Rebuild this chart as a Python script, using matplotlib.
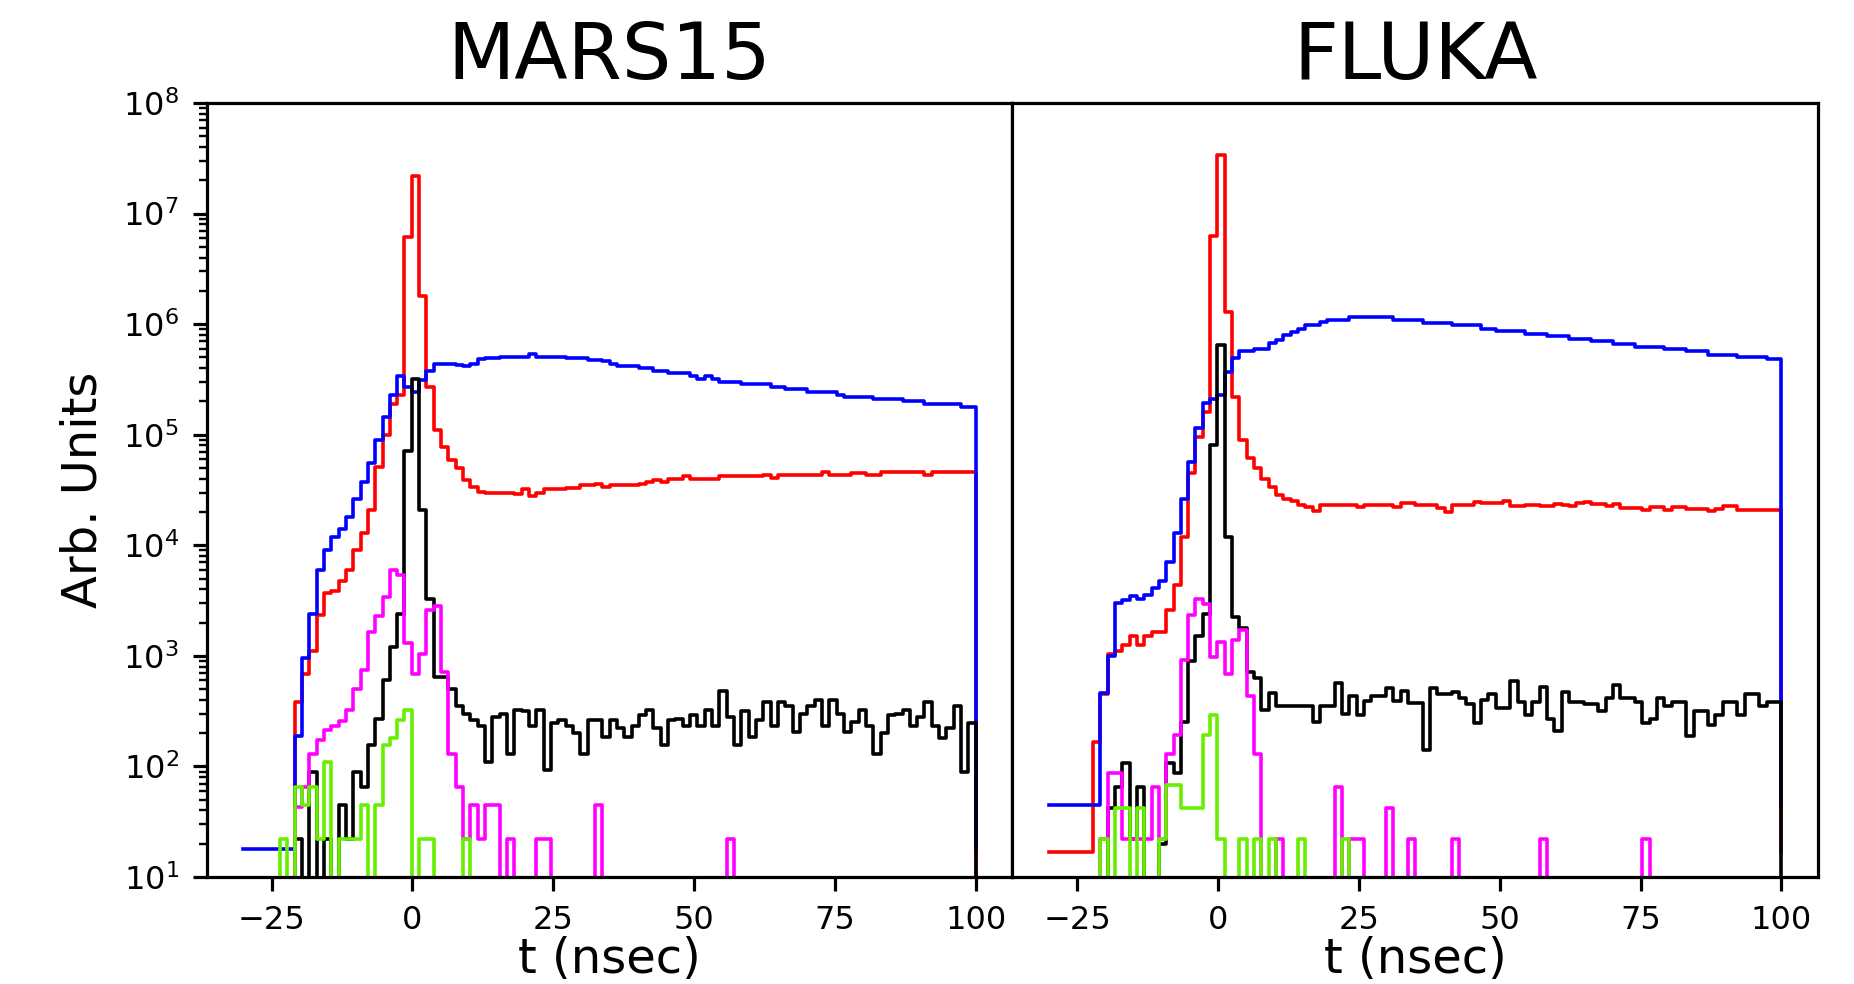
import numpy as np
import matplotlib.pyplot as plt

# 100 time bins of 1.3 ns between -30 and 100 ns
edges = np.linspace(-30, 100, 101)

# ---- MARS15 ----
mars_blue = [18, 18, 18, 18, 18, 18, 18, 190, 950, 2400,
             6000, 9100, 1.2e4, 1.4e4, 1.8e4, 2.6e4, 3.7e4, 5.5e4, 8.9e4, 1.45e5,
             2.3e5, 3.4e5, 2.7e5, 2.45e5, 3.1e5, 3.8e5, 4.4e5, 4.4e5, 4.4e5, 4.3e5,
             4.2e5, 4.4e5, 4.8e5, 4.9e5, 4.9e5, 5.1e5, 5.1e5, 5.1e5, 5.1e5, 5.4e5,
             5.1e5, 5.1e5, 5.1e5, 5.0e5, 4.9e5, 4.9e5, 4.9e5, 4.7e5, 4.7e5, 4.6e5,
             4.4e5, 4.2e5, 4.2e5, 4.2e5, 4.0e5, 4.0e5, 3.8e5, 3.8e5, 3.6e5, 3.6e5,
             3.6e5, 3.4e5, 3.2e5, 3.4e5, 3.2e5, 3.0e5, 3.0e5, 3.0e5, 2.9e5, 2.9e5,
             2.9e5, 2.9e5, 2.7e5, 2.7e5, 2.6e5, 2.6e5, 2.6e5, 2.45e5, 2.45e5, 2.45e5,
             2.45e5, 2.3e5, 2.2e5, 2.2e5, 2.2e5, 2.2e5, 2.1e5, 2.1e5, 2.1e5, 2.1e5,
             2.0e5, 2.0e5, 2.0e5, 1.9e5, 1.9e5, 1.9e5, 1.9e5, 1.9e5, 1.8e5, 1.8e5]

mars_red = [0, 0, 0, 0, 0, 0, 0, 385, 690, 1100,
            2350, 3700, 3900, 4800, 6000, 9000, 1.28e4, 2.1e4, 5.1e4, 1.0e5,
            1.9e5, 2.3e5, 6.2e6, 2.2e7, 1.8e6, 2.7e5, 1.1e5, 7.8e4, 5.9e4, 5.0e4,
            3.9e4, 3.4e4, 3.05e4, 2.95e4, 2.95e4, 2.95e4, 2.95e4, 2.9e4, 3.2e4, 2.8e4,
            3.0e4, 3.2e4, 3.2e4, 3.2e4, 3.3e4, 3.3e4, 3.5e4, 3.5e4, 3.6e4, 3.4e4,
            3.5e4, 3.5e4, 3.5e4, 3.5e4, 3.6e4, 3.76e4, 3.9e4, 3.76e4, 3.95e4, 3.95e4,
            4.2e4, 3.95e4, 3.95e4, 3.95e4, 3.95e4, 4.2e4, 4.2e4, 4.2e4, 4.2e4, 4.2e4,
            4.2e4, 4.3e4, 4.1e4, 4.3e4, 4.3e4, 4.3e4, 4.3e4, 4.3e4, 4.3e4, 4.6e4,
            4.3e4, 4.3e4, 4.3e4, 4.5e4, 4.5e4, 4.3e4, 4.3e4, 4.6e4, 4.6e4, 4.6e4,
            4.6e4, 4.6e4, 4.6e4, 4.3e4, 4.6e4, 4.6e4, 4.6e4, 4.6e4, 4.6e4, 4.6e4]

mars_black = [0, 0, 0, 0, 0, 0, 0, 22, 0, 89,
              0, 22, 0, 45, 22, 89, 65, 155, 270, 600,
              1200, 2400, 7.2e4, 3.2e5, 2.1e4, 3300, 650, 650, 500, 350,
              300, 265, 230, 110, 280, 300, 130, 325, 315, 230,
              325, 93, 245, 265, 230, 200, 130, 265, 265, 185,
              265, 225, 185, 230, 290, 325, 225, 155, 265, 270,
              230, 290, 230, 325, 230, 480, 280, 155, 315, 185,
              265, 380, 230, 380, 350, 205, 300, 350, 400, 230,
              395, 300, 205, 255, 325, 230, 130, 200, 290, 300,
              325, 230, 280, 380, 230, 180, 225, 350, 89, 245]

mars_magenta = [0, 0, 0, 0, 0, 0, 0, 43, 65, 130,
                173, 215, 230, 256, 325, 500, 740, 1660, 2300, 3400,
                6000, 5400, 1300, 690, 1050, 2600, 2800, 720, 130, 65,
                22, 45, 22, 45, 45, 0, 22, 0, 0, 0,
                22, 22, 0, 0, 0, 0, 0, 0, 45, 0,
                0, 0, 0, 0, 0, 0, 0, 0, 0, 0,
                0, 0, 0, 0, 0, 0, 22, 0, 0, 0,
                0, 0, 0, 0, 0, 0, 0, 0, 0, 0,
                0, 0, 0, 0, 0, 0, 0, 0, 0, 0,
                0, 0, 0, 0, 0, 0, 0, 0, 0, 0]

mars_green = [0, 0, 0, 0, 0, 22, 0, 65, 45, 65,
              22, 110, 0, 22, 22, 22, 45, 0, 45, 155,
              180, 265, 325, 0, 22, 22, 0, 0, 0, 0,
              22, 0, 0, 0, 0, 0, 0, 0, 0, 0,
              0, 0, 0, 0, 0, 0, 0, 0, 0, 0,
              0, 0, 0, 0, 0, 0, 0, 0, 0, 0,
              0, 0, 0, 0, 0, 0, 0, 0, 0, 0,
              0, 0, 0, 0, 0, 0, 0, 0, 0, 0,
              0, 0, 0, 0, 0, 0, 0, 0, 0, 0,
              0, 0, 0, 0, 0, 0, 0, 0, 0, 0]

# ---- FLUKA ----
fluka_blue = [45, 45, 45, 45, 45, 45, 45, 460, 1000, 3000,
              3200, 3500, 3300, 3550, 4100, 4800, 7100, 1.28e4, 2.6e4, 5.7e4,
              1.14e5, 1.95e5, 2.1e5, 2.3e5, 3.7e5, 4.9e5, 5.7e5, 5.7e5, 6.0e5, 6.0e5,
              6.7e5, 7.2e5, 7.9e5, 8.5e5, 9.1e5, 9.8e5, 9.8e5, 1.05e6, 1.1e6, 1.1e6,
              1.1e6, 1.16e6, 1.16e6, 1.16e6, 1.16e6, 1.16e6, 1.16e6, 1.1e6, 1.09e6, 1.09e6,
              1.09e6, 1.03e6, 1.03e6, 1.03e6, 1.03e6, 9.8e5, 9.8e5, 9.8e5, 9.8e5, 9.1e5,
              9.1e5, 8.7e5, 8.7e5, 8.7e5, 8.7e5, 8.2e5, 8.2e5, 8.2e5, 7.8e5, 7.8e5,
              7.8e5, 7.4e5, 7.4e5, 7.4e5, 7.0e5, 7.0e5, 7.0e5, 6.6e5, 6.6e5, 6.6e5,
              6.2e5, 6.2e5, 6.2e5, 6.2e5, 6.0e5, 6.0e5, 6.0e5, 5.7e5, 5.7e5, 5.7e5,
              5.3e5, 5.3e5, 5.3e5, 5.3e5, 5.0e5, 5.0e5, 5.0e5, 5.0e5, 4.8e5, 4.8e5]

fluka_red = [17, 17, 17, 17, 17, 17, 166, 450, 1050, 1100,
             1260, 1500, 1260, 1500, 1650, 1650, 2600, 4400, 1.2e4, 4.5e4,
             9.6e4, 1.6e5, 6.3e6, 3.4e7, 1.3e6, 2.2e5, 8.9e4, 6.1e4, 5.0e4, 4.0e4,
             3.4e4, 2.85e4, 2.6e4, 2.5e4, 2.3e4, 2.2e4, 2.05e4, 2.3e4, 2.3e4, 2.3e4,
             2.3e4, 2.3e4, 2.2e4, 2.3e4, 2.3e4, 2.3e4, 2.3e4, 2.2e4, 2.4e4, 2.4e4,
             2.3e4, 2.3e4, 2.3e4, 2.19e4, 2.0e4, 2.3e4, 2.3e4, 2.3e4, 2.45e4, 2.4e4,
             2.4e4, 2.4e4, 2.5e4, 2.25e4, 2.25e4, 2.3e4, 2.3e4, 2.25e4, 2.25e4, 2.34e4,
             2.3e4, 2.25e4, 2.4e4, 2.46e4, 2.34e4, 2.34e4, 2.25e4, 2.34e4, 2.19e4, 2.19e4,
             2.19e4, 2.1e4, 2.23e4, 2.23e4, 2.1e4, 2.23e4, 2.23e4, 2.15e4, 2.15e4, 2.15e4,
             2.04e4, 2.15e4, 2.25e4, 2.25e4, 2.1e4, 2.1e4, 2.1e4, 2.1e4, 2.1e4, 2.1e4]

fluka_black = [0, 0, 0, 0, 0, 0, 0, 0, 42, 65,
               107, 22, 65, 0, 0, 20, 107, 87, 250, 890,
               1500, 2400, 8.1e4, 6.5e5, 1.2e4, 2250, 1780, 720, 630, 325,
               460, 350, 350, 350, 350, 350, 250, 350, 350, 570,
               300, 430, 295, 390, 430, 430, 510, 390, 480, 372,
               372, 141, 508, 454, 454, 473, 415, 365, 247, 398,
               454, 335, 335, 590, 380, 295, 380, 525, 270, 210,
               473, 380, 380, 365, 365, 320, 415, 540, 415, 415,
               380, 247, 270, 415, 350, 380, 380, 190, 320, 320,
               236, 295, 380, 380, 295, 454, 454, 350, 380, 380]

fluka_magenta = [0, 0, 0, 0, 0, 0, 0, 22, 87, 87,
                 22, 22, 22, 22, 65, 22, 130, 192, 910, 2350,
                 3300, 2950, 980, 1330, 690, 1380, 1700, 430, 130, 0,
                 0, 22, 0, 0, 0, 0, 0, 0, 0, 65,
                 0, 22, 22, 0, 0, 0, 42, 0, 0, 22,
                 0, 0, 0, 0, 0, 22, 0, 0, 0, 0,
                 0, 0, 0, 0, 0, 0, 0, 22, 0, 0,
                 0, 0, 0, 0, 0, 0, 0, 0, 0, 0,
                 0, 22, 0, 0, 0, 0, 0, 0, 0, 0,
                 0, 0, 0, 0, 0, 0, 0, 0, 0, 0]

fluka_green = [0, 0, 0, 0, 0, 0, 0, 22, 0, 42,
               42, 0, 42, 0, 0, 22, 68, 68, 42, 42,
               42, 192, 290, 22, 0, 0, 22, 0, 22, 0,
               22, 0, 0, 0, 22, 0, 0, 0, 0, 0,
               22, 0, 0, 0, 0, 0, 0, 0, 0, 0,
               0, 0, 0, 0, 0, 0, 0, 0, 0, 0,
               0, 0, 0, 0, 0, 0, 0, 0, 0, 0,
               0, 0, 0, 0, 0, 0, 0, 0, 0, 0,
               0, 0, 0, 0, 0, 0, 0, 0, 0, 0,
               0, 0, 0, 0, 0, 0, 0, 0, 0, 0]

colors = ['red', 'blue', 'black', 'magenta', '#66f000']


def draw_panel(ax, series, title):
    for vals, color in zip(series, colors):
        vals = np.asarray(vals, dtype=float)
        # the trace closes at t=100 back down to its first-bin level
        ax.step(edges, np.append(vals, vals[0]), where='post', color=color, lw=0.9)
    ax.set_yscale('log')
    ax.set_ylim(10, 1e8)
    ax.set_xlim(-36.5, 106.5)
    ax.set_xticks([-25, 0, 25, 50, 75, 100])
    ax.set_title(title, fontsize=19.5)
    ax.set_xlabel('t (nsec)', fontsize=12, labelpad=0)
    ax.tick_params(labelsize=8)


fig, (ax1, ax2) = plt.subplots(1, 2, sharey=True, figsize=(1854 / 288, 984 / 288), dpi=288)
fig.subplots_adjust(left=0.1115, right=0.9806, bottom=0.1087, top=0.8953, wspace=0)

draw_panel(ax1, [mars_red, mars_blue, mars_black, mars_magenta, mars_green], 'MARS15')
draw_panel(ax2, [fluka_red, fluka_blue, fluka_black, fluka_magenta, fluka_green], 'FLUKA')

ax1.set_ylabel('Arb. Units', fontsize=12)
ax2.tick_params(axis='y', which='both', left=False, labelleft=False)

fig.savefig('out.png', dpi=288)
